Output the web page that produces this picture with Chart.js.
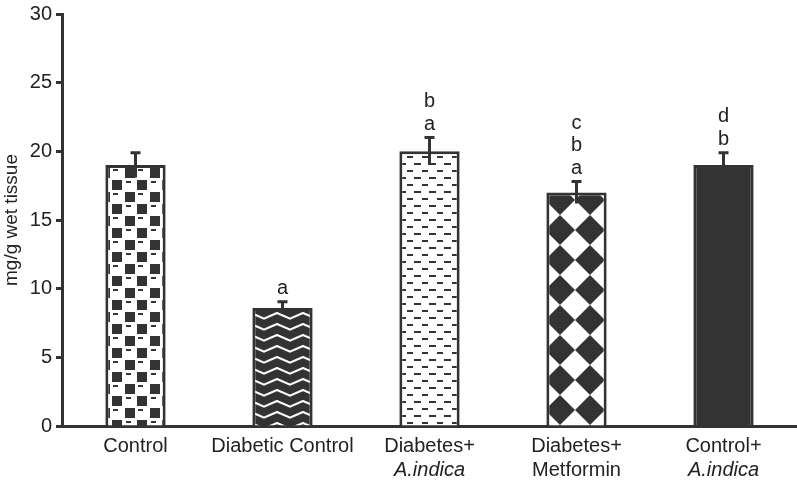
<!DOCTYPE html>
<html>
<head>
<meta charset="utf-8">
<script src="https://cdn.jsdelivr.net/npm/chart.js@4"></script>
<style>
  body { margin: 0; background: #fff; }
  canvas { display: block; }
</style>
</head>
<body>
<canvas id="chart" width="797" height="484"></canvas>
<script>
//================= DATA =================//
const groups = ['Control', 'Diabetic Control', 'Diabetes+', 'Diabetes+', 'Control+'];
const groupsLine2 = ['', '', 'A.indica', 'Metformin', 'A.indica'];
const line2Italic = [false, false, true, false, true];
const means = [19.0, 8.6, 20.0, 17.0, 19.0];
const errors = [0.9, 0.45, 1.0, 0.8, 0.9];
const sigLetters = [[], ['a'], ['a', 'b'], ['a', 'b', 'c'], ['b', 'd']];
const yTicks = [0, 5, 10, 15, 20, 25, 30];

const DARK = '#333333';
const FONT = "'Liberation Sans', Arial, sans-serif";

const canvas = document.getElementById('chart');
const ctx = canvas.getContext('2d');

//================= PATTERNS =================//
function makePattern(w, h, dx, dy, draw){
    let c = document.createElement('canvas');
    c.width = w; c.height = h;
    let g = c.getContext('2d');
    draw(g, w, h);
    let p = ctx.createPattern(c, 'repeat');
    p.setTransform(new DOMMatrix().translate(dx, dy));
    return p;
}

// checkerboard with small dashes (Control)
const checkPattern = makePattern(25, 24, 0, 0, function(g, w, h){
    g.fillStyle = '#fff'; g.fillRect(0, 0, w, h);
    g.fillStyle = DARK;
    g.fillRect(0, 0, 10, 10);
    g.fillRect(12, 12, 10, 10);
    g.fillRect(13, 1, 5, 2);
    g.fillRect(1, 13, 5, 2);
});

// white zigzag on dark (Diabetic Control)
const zigzagPattern = makePattern(26, 11, 4, 2, function(g, w, h){
    g.fillStyle = DARK; g.fillRect(0, 0, w, h);
    g.strokeStyle = '#fff';
    g.lineWidth = 2;
    g.lineJoin = 'round';
    g.beginPath();
    g.moveTo(-1, 9); g.lineTo(13, 3); g.lineTo(27, 9);
    g.stroke();
});

// rows of short dashes (Diabetes+A.indica)
const dashPattern = makePattern(15, 14, 0, 0, function(g, w, h){
    g.fillStyle = '#fff'; g.fillRect(0, 0, w, h);
    g.fillStyle = DARK;
    g.fillRect(2, 2, 6, 2);
    g.fillRect(9, 9, 6, 2);
    g.fillRect(0, 9, 1, 2);
});

// diamonds (Diabetes+Metformin)
const diamondPattern = makePattern(30, 30, 5, 5, function(g, w, h){
    g.fillStyle = '#fff'; g.fillRect(0, 0, w, h);
    g.fillStyle = DARK;
    g.beginPath();
    g.moveTo(15, 0); g.lineTo(30, 15); g.lineTo(15, 30); g.lineTo(0, 15);
    g.closePath();
    g.fill();
});

const barFills = [checkPattern, zigzagPattern, dashPattern, diamondPattern, DARK];

//================= PLUGINS =================//
const errorBarPlugin = {
    id: 'errorBars',
    afterDatasetsDraw(chart){
        const c = chart.ctx;
        const yScale = chart.scales.y;
        const meta = chart.getDatasetMeta(0);
        c.save();
        c.strokeStyle = DARK;
        c.lineWidth = 3;
        meta.data.forEach(function(bar, i){
            let top = yScale.getPixelForValue(means[i] + errors[i]);
            let bottom = yScale.getPixelForValue(means[i] - errors[i]);
            c.beginPath();
            c.moveTo(bar.x, bottom);
            c.lineTo(bar.x, top);
            c.moveTo(bar.x - 5, top);
            c.lineTo(bar.x + 5, top);
            c.stroke();

            c.fillStyle = '#222';
            c.font = '20px ' + FONT;
            c.textAlign = 'center';
            c.textBaseline = 'alphabetic';
            sigLetters[i].forEach(function(letter, k){
                c.fillText(letter, bar.x, top - 8 - k * 22.5);
            });
        });
        c.restore();
    }
};

const secondLinePlugin = {
    id: 'secondLine',
    afterDraw(chart){
        const c = chart.ctx;
        const xScale = chart.scales.x;
        c.save();
        c.fillStyle = '#222';
        c.textAlign = 'center';
        c.textBaseline = 'middle';
        groupsLine2.forEach(function(txt, i){
            if(!txt) return;
            c.font = (line2Italic[i] ? 'italic ' : '') + '20px ' + FONT;
            c.fillText(txt, xScale.getPixelForValue(i), 470);
        });
        c.restore();
    }
};

//================= CHART =================//
new Chart(ctx, {
    type: 'bar',
    data: {
        labels: groups,
        datasets: [{
            data: means,
            backgroundColor: barFills,
            borderColor: DARK,
            borderWidth: 3,
            borderSkipped: 'bottom',
            categoryPercentage: 1,
            barPercentage: 0.41
        }]
    },
    options: {
        responsive: false,
        animation: false,
        layout: { padding: { top: 0, right: 0, bottom: 18, left: 0 } },
        plugins: {
            legend: { display: false },
            tooltip: { enabled: false }
        },
        scales: {
            x: {
                grid: { display: false, drawTicks: false },
                border: { display: true, color: DARK, width: 3 },
                ticks: {
                    color: '#222',
                    font: { family: FONT, size: 20, lineHeight: 1 },
                    padding: 10,
                    maxRotation: 0,
                    autoSkip: false
                }
            },
            y: {
                min: 0,
                max: 30,
                afterBuildTicks(scale){
                    scale.ticks = yTicks.map(v => ({ value: v }));
                },
                afterFit(scale){ scale.width = 62; },
                grid: { drawOnChartArea: false, drawTicks: true, tickLength: 6, tickWidth: 3, tickColor: DARK },
                border: { display: true, color: DARK, width: 3 },
                ticks: {
                    color: '#222',
                    font: { family: FONT, size: 20, lineHeight: 1 },
                    padding: 4
                },
                title: {
                    display: true,
                    text: 'mg/g wet tissue',
                    color: '#222',
                    font: { family: FONT, size: 19 },
                    padding: { top: 0, bottom: 2 }
                }
            }
        }
    },
    plugins: [errorBarPlugin, secondLinePlugin]
});
</script>
</body>
</html>
